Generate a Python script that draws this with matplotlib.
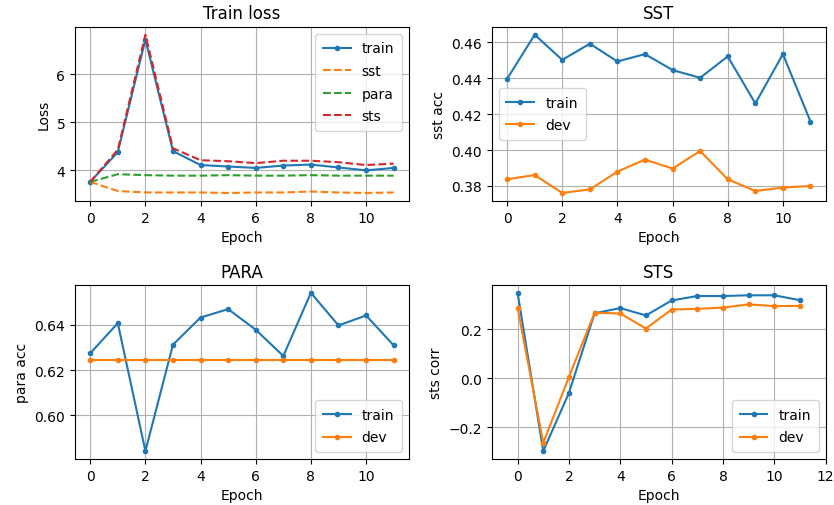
import numpy as np
from matplotlib import pyplot as plt

epochs = np.arange(12)

loss_train = [3.76, 4.38, 6.72, 4.40, 4.11, 4.08, 4.05, 4.10, 4.12, 4.06, 4.00, 4.05]
loss_sst = [3.76, 3.57, 3.54, 3.54, 3.54, 3.53, 3.54, 3.54, 3.56, 3.54, 3.53, 3.54]
loss_para = [3.76, 3.92, 3.90, 3.89, 3.89, 3.90, 3.89, 3.89, 3.90, 3.89, 3.89, 3.89]
loss_sts = [3.76, 4.43, 6.82, 4.46, 4.21, 4.19, 4.15, 4.20, 4.20, 4.17, 4.11, 4.14]

sst_train = [0.4397, 0.4643, 0.4503, 0.4593, 0.4494, 0.4535, 0.4446, 0.4403, 0.4522, 0.4260, 0.4535, 0.4159]
sst_dev = [0.3837, 0.3861, 0.3761, 0.3781, 0.3880, 0.3947, 0.3897, 0.3995, 0.3837, 0.3772, 0.3791, 0.3800]

para_train = [0.6274, 0.6407, 0.5842, 0.6312, 0.6432, 0.6469, 0.6378, 0.6262, 0.6541, 0.6397, 0.6441, 0.6309]
para_dev = [0.6243] * 12

sts_train = [0.347, -0.296, -0.060, 0.264, 0.285, 0.255, 0.316, 0.334, 0.334, 0.337, 0.337, 0.317]
sts_dev = [0.286, -0.263, 0.005, 0.266, 0.263, 0.202, 0.279, 0.282, 0.287, 0.300, 0.293, 0.294]

plt.rcParams['legend.labelspacing'] = 0.62
plt.rcParams['legend.borderpad'] = 0.55

fig, axs = plt.subplots(2, 2, figsize=(8.34, 5.06), dpi=100)
plt.subplots_adjust(left=0.090, right=0.990, bottom=0.091, top=0.945, wspace=0.249, hspace=0.483)

ax = axs[0, 0]
ax.plot(epochs, loss_train, '.-', label='train')
ax.plot(epochs, loss_sst, '--', label='sst')
ax.plot(epochs, loss_para, '--', label='para')
ax.plot(epochs, loss_sts, '--', label='sts')
ax.set_title('Train loss')
ax.set_xlabel('Epoch')
ax.set_ylabel('Loss')
ax.grid(True)
ax.legend(loc='upper right')

ax = axs[0, 1]
ax.plot(epochs, sst_train, '.-', label='train')
ax.plot(epochs, sst_dev, '.-', label='dev')
ax.set_title('SST')
ax.set_xlabel('Epoch')
ax.set_ylabel('sst acc')
ax.grid(True)
ax.legend(loc='center left')

ax = axs[1, 0]
ax.plot(epochs, para_train, '.-', label='train')
ax.plot(epochs, para_dev, '.-', label='dev')
ax.set_title('PARA')
ax.set_xlabel('Epoch')
ax.set_ylabel('para acc')
ax.grid(True)
ax.legend(loc='lower right')

ax = axs[1, 1]
ax.plot(epochs, sts_train, '.-', label='train')
ax.plot(epochs, sts_dev, '.-', label='dev')
ax.set_title('STS')
ax.set_xlabel('Epoch')
ax.set_ylabel('sts corr')
ax.set_xlim(-1, 12)
ax.grid(True)
ax.legend(loc='lower right')

plt.savefig('out.png')
